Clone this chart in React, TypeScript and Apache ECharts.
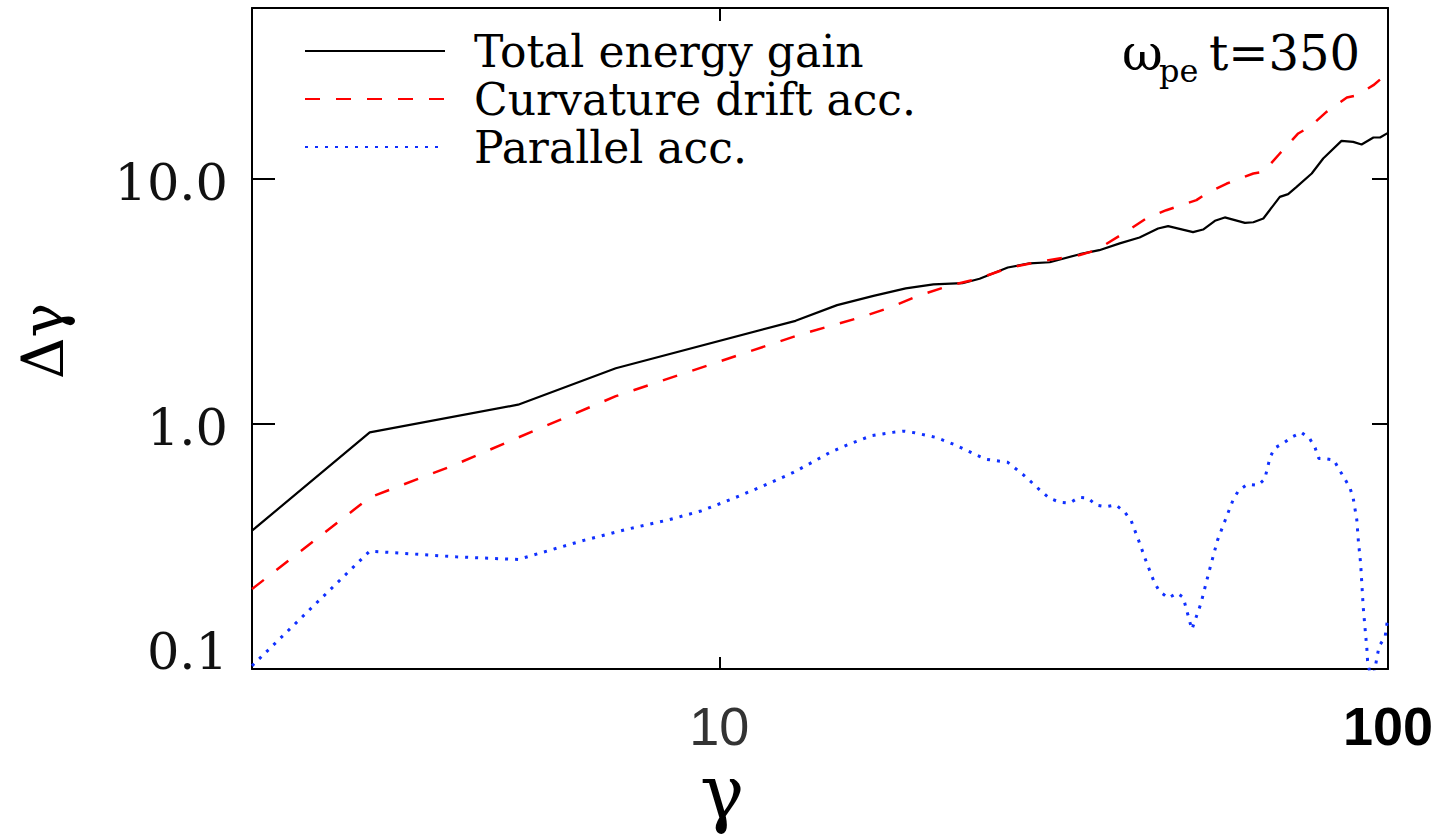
import React, { useEffect, useRef } from 'react';
import * as echarts from 'echarts';

// Total energy gain per particle vs. Lorentz factor
const totalGamma = [2, 3, 5, 7, 13, 15, 17, 19, 20.9, 23.1, 24.5, 27.0, 29.1, 31.2, 34.6, 37.0, 39.7, 42.5, 45.3, 46.9, 51.1, 52.9, 55.1, 57.0, 61.1, 62.9, 65.1, 68.9, 70.9, 73.0, 76.9, 80.0, 85.2, 88.7, 91.3, 95.1, 97.3, 100];
const totalGain = [0.367, 0.925, 1.2, 1.69, 2.64, 3.06, 3.34, 3.58, 3.72, 3.76, 3.92, 4.36, 4.53, 4.58, 4.94, 5.13, 5.47, 5.78, 6.29, 6.43, 6.08, 6.23, 6.76, 6.98, 6.63, 6.67, 6.91, 8.47, 8.69, 9.3, 10.55, 12.15, 14.33, 14.2, 13.86, 14.8, 14.8, 15.45];

// Contribution of curvature drift acceleration
const curvGamma = [2, 3, 4, 5, 7, 13.2, 16.2, 18.0, 19.8, 22.0, 24.4, 27.0, 30.0, 34.6, 36.6, 40.2, 43.5, 46.6, 51.7, 53.5, 57.4, 62.9, 65.1, 68.9, 73.4, 76.4, 80.9, 86.8, 89.8, 95.1, 98.4, 100];
const curvGain = [0.212, 0.502, 0.678, 0.881, 1.3, 2.32, 2.72, 2.99, 3.34, 3.66, 3.93, 4.33, 4.6, 4.9, 5.13, 6.0, 6.91, 7.47, 8.21, 8.74, 9.6, 10.55, 10.71, 12.73, 15.37, 16.35, 18.83, 21.56, 22.0, 24.2, 26.2, 27.1];

// Contribution of parallel electric field acceleration
const parGamma = [2, 3, 4.04, 5, 6.29, 7.3, 8.38, 9.39, 10.47, 11.61, 12.88, 13.76, 14.7, 15.74, 16.87, 18.17, 18.87, 19.58, 21.1, 22.6, 24.2, 25.1, 27.0, 28.6, 30.2, 31.2, 32.3, 33.4, 34.5, 35.6, 36.6, 37.8, 39.2, 40.4, 41.3, 42.4, 43.5, 44.7, 45.5, 46.9, 48.4, 49.4, 50.4, 50.9, 52.5, 54.0, 55.6, 57.1, 58.7, 59.8, 61.6, 63.9, 65.4, 66.6, 67.6, 69.9, 72.0, 74.2, 76.4, 77.8, 78.8, 80.5, 83.0, 84.5, 86.1, 87.7, 88.7, 89.8, 90.3, 91.0, 91.4, 91.8, 92.4, 93.0, 93.2, 94.4, 95.6, 96.3, 97.0, 99.0, 99.5, 100];
const parGain = [0.103, 0.303, 0.287, 0.28, 0.336, 0.373, 0.406, 0.442, 0.496, 0.558, 0.633, 0.698, 0.771, 0.834, 0.896, 0.925, 0.936, 0.922, 0.882, 0.819, 0.749, 0.718, 0.698, 0.615, 0.536, 0.497, 0.48, 0.476, 0.502, 0.499, 0.467, 0.46, 0.467, 0.437, 0.403, 0.333, 0.274, 0.2265, 0.208, 0.195, 0.204, 0.196, 0.16, 0.145, 0.185, 0.25, 0.336, 0.406, 0.493, 0.536, 0.567, 0.562, 0.596, 0.729, 0.796, 0.839, 0.888, 0.925, 0.871, 0.8, 0.724, 0.722, 0.713, 0.653, 0.6, 0.55, 0.499, 0.408, 0.333, 0.27, 0.221, 0.18, 0.147, 0.12, 0.108, 0.09, 0.1, 0.112, 0.124, 0.135, 0.149, 0.165];

const seriesNames = ['Total energy gain', 'Curvature drift acc.', 'Parallel acc.'];

const xTicks = [10, 100];
const xTickLabels = ['10', '100'];
const yTicks = [0.1, 1, 10];
const yTickLabels = ['0.1', '1.0', '10.0'];

const zip = (xs: number[], ys: number[]) => xs.map((x, i) => [x, ys[i]]);
const sameDecade = (v: number, t: number) => Math.abs(Math.log10(v) - Math.log10(t)) < 1e-6;

const SERIF = 'DejaVu Serif';

export default function App() {
  const ref = useRef<HTMLDivElement>(null);

  useEffect(() => {
    if (!ref.current) return;
    const chart = echarts.init(ref.current, null, { renderer: 'svg' });

    const frameLine = { color: '#000', width: 2 };

    const option: any = {
      animation: false,
      backgroundColor: '#fff',
      grid: { left: 252, top: 8, right: 50, bottom: 165, containLabel: false },
      legend: {
        orient: 'vertical',
        left: 299,
        top: 22,
        itemWidth: 140,
        itemHeight: 14,
        itemGap: 0,
        data: seriesNames,
        itemStyle: { opacity: 0 },
        textStyle: {
          fontFamily: SERIF,
          fontSize: 44,
          color: '#000',
          lineHeight: 48,
          padding: [0, 0, 0, 24],
        },
      },
      xAxis: [
        {
          type: 'log',
          logBase: 10,
          min: 2,
          max: 100,
          position: 'bottom',
          axisLine: { onZero: false, lineStyle: frameLine },
          axisTick: { inside: true, length: 12, lineStyle: frameLine },
          minorTick: { show: false },
          splitLine: { show: false },
          axisLabel: {
            margin: 36,
            showMinLabel: true,
            showMaxLabel: true,
            formatter: (v: number) => {
              const i = xTicks.findIndex((t) => sameDecade(v, t));
              if (i < 0) return '';
              return i === 0 ? `{thin|${xTickLabels[i]}}` : `{bold|${xTickLabels[i]}}`;
            },
            rich: {
              thin: { fontFamily: 'Liberation Sans', fontSize: 54, lineHeight: 42, color: '#333' },
              bold: { fontFamily: 'Liberation Sans', fontSize: 54, lineHeight: 42, fontWeight: 'bold', color: '#000' },
            },
          },
        },
        {
          type: 'log',
          logBase: 10,
          min: 2,
          max: 100,
          position: 'top',
          axisLine: { onZero: false, lineStyle: frameLine },
          axisTick: { inside: true, length: 13, lineStyle: frameLine },
          minorTick: { show: false },
          splitLine: { show: false },
          axisLabel: { show: false },
        },
      ],
      yAxis: [
        {
          type: 'log',
          logBase: 10,
          min: 0.1,
          max: 50,
          position: 'left',
          axisLine: { onZero: false, lineStyle: frameLine },
          axisTick: { inside: true, length: 23, lineStyle: frameLine },
          minorTick: { show: false },
          splitLine: { show: false },
          axisLabel: {
            margin: 24,
            showMinLabel: true,
            showMaxLabel: true,
            formatter: (v: number) => {
              const i = yTicks.findIndex((t) => sameDecade(v, t));
              if (i < 0) return '';
              return i === 0 ? `{lo|${yTickLabels[i]}}` : `{n|${yTickLabels[i]}}`;
            },
            rich: {
              n: { fontFamily: SERIF, fontSize: 51, color: '#111', padding: [6, 0, 0, 0] },
              lo: { fontFamily: SERIF, fontSize: 51, color: '#111', padding: [0, 0, 36, 0] },
            },
          },
        },
        {
          type: 'log',
          logBase: 10,
          min: 0.1,
          max: 50,
          position: 'right',
          axisLine: { onZero: false, lineStyle: frameLine },
          axisTick: { inside: true, length: 16, lineStyle: frameLine },
          minorTick: { show: false },
          splitLine: { show: false },
          axisLabel: { show: false },
        },
      ],
      series: [
        {
          name: seriesNames[0],
          type: 'line',
          symbol: 'none',
          clip: true,
          data: zip(totalGamma, totalGain),
          lineStyle: { color: '#000', width: 2.2, type: 'solid' },
          itemStyle: { color: '#000' },
        },
        {
          name: seriesNames[1],
          type: 'line',
          symbol: 'none',
          clip: true,
          data: zip(curvGamma, curvGain),
          lineStyle: { color: '#ff0000', width: 2.5, type: [15, 16] },
          itemStyle: { color: '#ff0000' },
        },
        {
          name: seriesNames[2],
          type: 'line',
          symbol: 'none',
          clip: true,
          data: zip(parGamma, parGain),
          lineStyle: { color: '#1030ff', width: 3, type: [3, 7] },
          itemStyle: { color: '#1030ff' },
        },
      ],
      graphic: [
        {
          type: 'text',
          x: 1122,
          y: 53,
          style: { text: 'ω', fontFamily: SERIF, fontSize: 50, fill: '#000', align: 'left', verticalAlign: 'middle' },
        },
        {
          type: 'text',
          x: 1159,
          y: 71,
          style: { text: 'pe', fontFamily: SERIF, fontSize: 32, fill: '#000', align: 'left', verticalAlign: 'middle' },
        },
        {
          type: 'text',
          x: 1360,
          y: 53,
          style: { text: 't=350', fontFamily: SERIF, fontSize: 48, fill: '#000', align: 'right', verticalAlign: 'middle' },
        },
        {
          type: 'text',
          x: 43,
          y: 341,
          rotation: Math.PI / 2,
          style: { text: 'Δγ', fontFamily: SERIF, fontSize: 58, fill: '#000', align: 'center', verticalAlign: 'middle' },
        },
        {
          type: 'text',
          x: 722,
          y: 792,
          style: { text: 'γ', fontFamily: SERIF, fontSize: 74, lineHeight: 50, fill: '#000', align: 'center', verticalAlign: 'middle' },
        },
      ],
    };

    chart.setOption(option);
    return () => chart.dispose();
  }, []);

  return (
    <div
      ref={ref}
      style={{ position: 'absolute', left: 0, top: 0, width: 1438, height: 834, background: '#fff' }}
    />
  );
}
